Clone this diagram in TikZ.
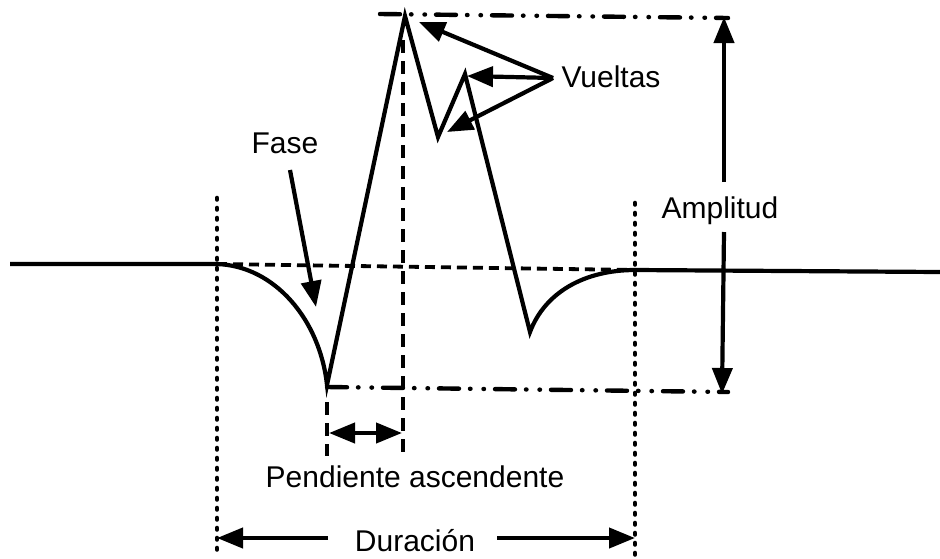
\documentclass[tikz,border=0pt]{standalone}
\usepackage{fontspec}
\setmainfont{Liberation Sans}
\usetikzlibrary{arrows.meta}
\begin{document}
\begin{tikzpicture}[x=1pt,y=-1pt,
  wave/.style={line width=4.2pt,line join=miter},
  dotline/.style={line width=4.6pt,line cap=round,dash pattern=on 1.5pt off 8.5pt},
  dashline/.style={line width=4.4pt,dash pattern=on 13pt off 8pt},
  basedash/.style={line width=3.8pt,dash pattern=on 10pt off 6pt},
  dashdot/.style={line width=4.4pt,line cap=round,dash pattern=on 20pt off 11pt on 0.5pt off 13pt on 0.5pt off 11pt},
  arr/.style={line width=4.2pt,-{Triangle[length=26pt,width=20pt]}},
  arrboth/.style={line width=4.2pt,{Triangle[length=26pt,width=20pt]}-{Triangle[length=26pt,width=20pt]}},
  lbl/.style={font=\fontsize{30}{33}\selectfont,inner sep=0pt,anchor=base}]
\useasboundingbox (0,0) rectangle (940,558);
% key points
\coordinate (L0) at (10,264);
\coordinate (A) at (217,264);
\coordinate (B) at (327,385);
\coordinate (P1) at (405,16);
\coordinate (V1) at (438,137);
\coordinate (P2) at (465,74);
\coordinate (V2) at (530,332);
\coordinate (C) at (635,270);
\coordinate (R0) at (940,272);
% guide lines
\draw[basedash] (A) -- (C);
\draw[dotline] (217,198) -- (217,558);
\draw[dotline] (635,203) -- (635,558);
\draw[dashline] (403,40) -- (403,452);
\draw[dashline] (327,402) -- (327,456);
\draw[dashdot] (380,14) -- (728,18);
\draw[dashdot] (327,387) -- (728,392);
% waveform
\draw[wave] (L0) -- (A) .. controls (275,266) and (320,320) .. (B)
  -- (P1) -- (V1) -- (P2) -- (V2) .. controls (545,292) and (585,270) .. (C) -- (R0);
% labels
\node[lbl] (vueltas) at (611,87) {Vueltas};
\node[lbl] (fase) at (285,153) {Fase};
\node[lbl] (amp) at (720,218) {Amplitud};
\node[lbl] (pend) at (415,487) {Pendiente ascendente};
\node[lbl] (dur) at (415,551) {Duración};
% Vueltas arrows
\coordinate (vs) at (553,78);
\draw[arr] (vs) -- (419,22);
\draw[arr] (vs) -- (467,76);
\draw[arr] (vs) -- (447,132);
% Fase arrow
\draw[arr] (290,170) -- (316,307);
% Amplitud arrows
\coordinate (au) at (724,182);
\coordinate (ad) at (724,232);
\draw[arr] (au) -- (724,17);
\draw[arr] (ad) -- (722,394);
% Pendiente arrow
\draw[arrboth] (329,433) -- (402,433);
% Duracion arrows
\coordinate (dl) at (328,538);
\coordinate (dr) at (497,538);
\draw[arr] (dl) -- (217,538);
\draw[arr] (dr) -- (635,538);
\end{tikzpicture}
\end{document}
